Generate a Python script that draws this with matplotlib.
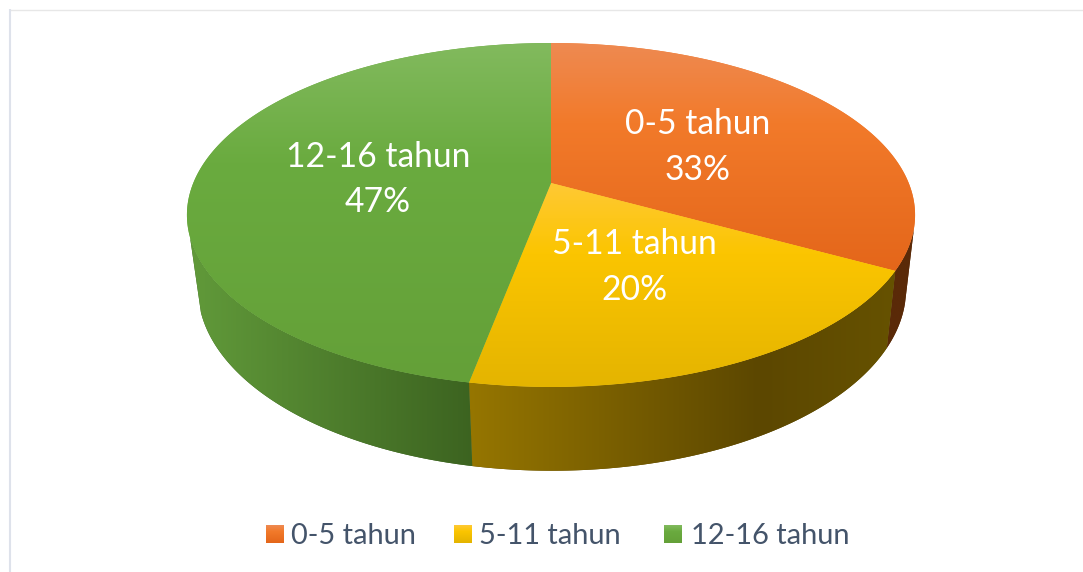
import numpy as np
import matplotlib
matplotlib.use("Agg")
import matplotlib.pyplot as plt
from matplotlib.colors import LinearSegmentedColormap as LSC
from matplotlib.patches import Polygon

categories = ["0-5 tahun", "5-11 tahun", "12-16 tahun"]
values = [33, 20, 47]
pct_labels = ["33%", "20%", "47%"]

top_colors = [["#EE8A52", "#F27A2A", "#E4661A"],
              ["#FFC935", "#FBC500", "#E4B400"],
              ["#82BA5E", "#6AAB3F", "#64A038"]]
side_colors = [["#5A2A08", "#5A2A08"],
               ["#967600", "#5C4700", "#665200"],
               ["#619A3A", "#3C6320"]]
label_xy = [(698, 147), (634, 267), (378, 179.5)]
legend_sq = [266, 454, 664]
legend_tx = [291, 479, 691]

W, H = 1083, 572
fig = plt.figure(figsize=(W / 100, H / 100), dpi=100)
ax = fig.add_axes([0, 0, 1, 1])
ax.axis("off")

K = 0.186
def top_curve(th):
    x, y = np.sin(th), np.cos(th)
    w = 1 + K * y
    return 551 + 357.7 * x / w, 183 - 166 * y / w

def low_curve(th):
    x, y = np.sin(th), np.cos(th)
    w = 1 + K * y
    return 552 + 347.9 * x / w, 255 - 175.6 * y / w

def ramp(colors, mid=0.35):
    if len(colors) == 3:
        return LSC.from_list("g", [(0, colors[0]), (mid, colors[1]), (1, colors[2])])
    return LSC.from_list("g", colors)

def gradient(poly_xy, colors, horizontal=False, mid=0.35):
    g = np.linspace(0, 1, 256)
    g = g[None, :] if horizontal else g[:, None]
    xs, ys = poly_xy[:, 0], poly_xy[:, 1]
    extent = (xs.min() - 1, xs.max() + 1, ys.max() + 1, ys.min() - 1)
    base = Polygon(poly_xy, closed=True, fc=colors[len(colors) // 2], ec="none", zorder=2)
    ax.add_patch(base)
    im = ax.imshow(g, cmap=ramp(colors, mid), extent=extent, aspect="auto", zorder=2.1,
                   interpolation="bilinear", origin="upper")
    clip = Polygon(poly_xy, closed=True, fc="none", ec="none", transform=ax.transData)
    ax.add_patch(clip)
    im.set_clip_path(clip)

edges = np.radians(np.cumsum([0] + values) * 3.6)
vis_lo, vis_hi = np.radians(105), np.radians(252)

for i in range(3):
    a, b = max(edges[i], vis_lo), min(edges[i + 1], vis_hi)
    th = np.linspace(a, b, 160)
    tx, ty = top_curve(th)
    lx, ly = low_curve(th[::-1])
    poly = np.column_stack([np.r_[tx, lx], np.r_[ty, ly]])
    gradient(poly, side_colors[i], horizontal=True, mid=0.68)

for i in range(3):
    th = np.linspace(edges[i], edges[i + 1], 240)
    tx, ty = top_curve(th)
    poly = np.column_stack([np.r_[551, tx], np.r_[183, ty]])
    gradient(poly, top_colors[i])

fp = dict(family=["Lato", "DejaVu Sans"])
for (x, y), c, p in zip(label_xy, categories, pct_labels):
    ax.text(x, y, f"{c}\n{p}", color="white", fontsize=24.2, ha="center", va="center",
            linespacing=1.52, zorder=5, **fp)

for i, c in enumerate(categories):
    x0 = legend_sq[i]
    ax.imshow(np.linspace(0, 1, 64)[:, None], cmap=ramp(top_colors[i]), aspect="auto",
              extent=(x0, x0 + 18, 543, 525), zorder=3, origin="upper")
    ax.text(legend_tx[i], 535.5, c, color="#44546A", fontsize=20.9, ha="left", va="center", zorder=5, **fp)

ax.plot([9, W], [9.5, 9.5], color="#E7E7E7", lw=1, solid_capstyle="butt", zorder=1)
ax.plot([10, 10], [9, H], color="#DEE2EB", lw=1.5, solid_capstyle="butt", zorder=1)

ax.set_xlim(0, W)
ax.set_ylim(H, 0)
fig.savefig("out.png", dpi=100, facecolor="white")
